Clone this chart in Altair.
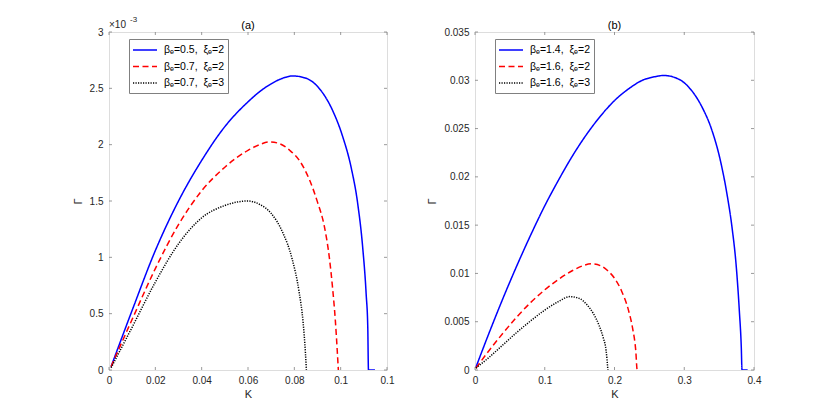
import altair as alt
import pandas as pd

# ---------------- data : panel (a)  (Gamma in units of 1e-3) ----------------
lab_a = ["βₑ=0.5,\u00a0\u00a0ξₑ=2", "βₑ=0.7,\u00a0\u00a0ξₑ=2", "βₑ=0.7,\u00a0\u00a0ξₑ=3"]

k_a1 = [0.0009, 0.01, 0.02, 0.03, 0.04, 0.05, 0.06, 0.065, 0.07, 0.075, 0.0793, 0.085,
        0.0915, 0.0966, 0.1009, 0.1045, 0.1074, 0.1095, 0.1110, 0.1117, 0.1120, 0.1148]
g_a1 = [0.03, 0.53, 1.06, 1.50, 1.86, 2.16, 2.38, 2.47, 2.54, 2.59, 2.61, 2.59,
        2.48, 2.30, 2.07, 1.80, 1.47, 1.09, 0.675, 0.38, 0.0, 0.0]

k_a2 = [0.0009, 0.01, 0.02, 0.03, 0.04, 0.05, 0.06, 0.065, 0.069, 0.0735, 0.078, 0.0825,
        0.0865, 0.0900, 0.0930, 0.0951, 0.0965, 0.0977, 0.0985, 0.0990]
g_a2 = [0.03, 0.45, 0.90, 1.29, 1.59, 1.80, 1.95, 2.00, 2.025, 2.01, 1.95, 1.85,
        1.69, 1.49, 1.27, 1.00, 0.73, 0.44, 0.18, 0.0]

k_a3 = [0.0009, 0.01, 0.02, 0.03, 0.04, 0.05, 0.06, 0.065, 0.07, 0.075, 0.079, 0.082,
        0.0838, 0.0848, 0.0852]
g_a3 = [0.02, 0.38, 0.78, 1.12, 1.35, 1.46, 1.50, 1.47, 1.39, 1.22, 0.99, 0.70,
        0.42, 0.15, 0.0]

# ---------------- data : panel (b) ----------------
lab_b = ["βₑ=1.4,\u00a0\u00a0ξₑ=2", "βₑ=1.6,\u00a0\u00a0ξₑ=2", "βₑ=1.6,\u00a0\u00a0ξₑ=3"]

k_b1 = [0.0014, 0.02, 0.04, 0.06, 0.08, 0.10, 0.12, 0.14, 0.16, 0.18, 0.20, 0.22, 0.24,
        0.26, 0.2705, 0.2925, 0.311, 0.3257, 0.3398, 0.3519, 0.3613, 0.3685, 0.3747,
        0.3790, 0.3818, 0.3828, 0.3909]
g_b1 = [0.0003, 0.0038, 0.0074, 0.0108, 0.0140, 0.0170, 0.0197, 0.0222, 0.0244, 0.0263,
        0.0279, 0.0291, 0.0300, 0.0304, 0.0305, 0.0301, 0.0289, 0.0272, 0.0248, 0.02166,
        0.0182, 0.01476, 0.0106, 0.0061, 0.0023, 0.0, 0.0]

k_b2 = [0.0014, 0.02, 0.04, 0.06, 0.08, 0.10, 0.12, 0.14, 0.155, 0.167, 0.18, 0.19, 0.20,
        0.21, 0.22, 0.226, 0.2305, 0.2325, 0.235]
g_b2 = [0.0002, 0.0020, 0.0038, 0.0055, 0.0070, 0.0083, 0.0094, 0.0103, 0.0108, 0.0110,
        0.0108, 0.0103, 0.0095, 0.0082, 0.0062, 0.0043, 0.0020, 0.0, 0.0]

k_b3 = [0.0014, 0.02, 0.04, 0.06, 0.08, 0.10, 0.12, 0.136, 0.15, 0.16, 0.17, 0.178, 0.184,
        0.188, 0.1905]
g_b3 = [0.0002, 0.0013, 0.0026, 0.0039, 0.0051, 0.0062, 0.0071, 0.0076, 0.0074, 0.0068,
        0.0058, 0.0046, 0.0033, 0.0020, 0.0]

# ---------------- axes ticks / labels ----------------
xt_a = [0, 0.02, 0.04, 0.06, 0.08, 0.1, 0.12]
yt_a = [0, 0.5, 1, 1.5, 2, 2.5, 3]
xt_b = [0, 0.1, 0.2, 0.3, 0.4]
yt_b = [0, 0.005, 0.01, 0.015, 0.02, 0.025, 0.03, 0.035]
titles = ["(a)", "(b)"]
exp_base = ["×10"]
exp_pow = ["-3"]

colors = ["#0000ff", "#ff0000", "#000000"]
dashes = [[1, 0], [6, 3.5], [1.2, 1.3]]
AX = "#808080"
TXT = "#262626"
FONT = "Liberation Sans"
W_A, W_B, H = 278, 279, 338


def frame(ks, gs, labels):
    rows = []
    for k, g, lab in zip(ks, gs, labels):
        for i, (a, b) in enumerate(zip(k, g)):
            rows.append({"K": a, "G": b, "series": lab, "i": i})
    return pd.DataFrame(rows)


def panel(df, xt, yt, xdom, ydom, labels, title, W, extra=None):
    xenc = alt.X("K:Q", scale=alt.Scale(domain=xdom, nice=False, zero=False),
                 axis=alt.Axis(values=xt, format="~g", title="K", ticks=False, domain=False,
                               grid=False, labelPadding=5, labelFontSize=10, labelColor=TXT,
                               labelFont=FONT, titleFont=FONT, titleFontSize=11,
                               titleFontWeight="normal", titleColor=TXT, titlePadding=3,
                               labelFlush=False, labelOverlap=False))
    yenc = alt.Y("G:Q", scale=alt.Scale(domain=ydom, nice=False, zero=False),
                 axis=alt.Axis(values=yt, format="~g", title="Γ", ticks=False, domain=False,
                               grid=False, labelPadding=6, labelFontSize=10, labelColor=TXT,
                               labelFont=FONT, titleFont=FONT, titleFontSize=11,
                               titleFontWeight="normal", titleColor=TXT, titlePadding=6,
                               labelFlush=False, labelOverlap=False))
    leg = alt.Legend(orient="none", legendX=20, legendY=7, title=None,
                     symbolType="M-2,0H2", symbolSize=144, symbolStrokeWidth=1.5,
                     symbolOffset=5, labelOffset=12, labelFontSize=10.5, labelFont=FONT,
                     labelColor="#000000", strokeColor=AX, fillColor="white",
                     padding=4, rowPadding=3.5, labelLimit=300)
    lines = alt.Chart(df).mark_line(strokeWidth=1.5, interpolate="monotone", clip=True).encode(
        x=xenc, y=yenc,
        color=alt.Color("series:N", scale=alt.Scale(domain=labels, range=colors), legend=leg),
        strokeDash=alt.StrokeDash("series:N", scale=alt.Scale(domain=labels, range=dashes), legend=leg),
        order="i:Q",
    )
    xdf = pd.DataFrame({"K": xt})
    ydf = pd.DataFrame({"G": yt})
    rk = dict(color=AX, strokeWidth=0.8)
    t_bot = alt.Chart(xdf).mark_rule(**rk).encode(x=xenc, y=alt.value(H), y2=alt.value(H - 3))
    t_top = alt.Chart(xdf).mark_rule(**rk).encode(x=xenc, y=alt.value(0), y2=alt.value(3))
    t_lft = alt.Chart(ydf).mark_rule(**rk).encode(y=yenc, x=alt.value(0), x2=alt.value(3))
    t_rgt = alt.Chart(ydf).mark_rule(**rk).encode(y=yenc, x=alt.value(W), x2=alt.value(W - 3))
    ttl = alt.Chart(pd.DataFrame({"t": [title]})).mark_text(
        align="center", baseline="alphabetic", fontSize=11, font=FONT, color="#000000").encode(
        x=alt.value(W / 2), y=alt.value(-3.5), text="t:N")
    layers = [t_bot, t_top, t_lft, t_rgt, lines, ttl]
    if extra is not None:
        layers += extra
    return alt.layer(*layers).properties(width=W, height=H)


df_a = frame([k_a1, k_a2, k_a3], [g_a1, g_a2, g_a3], lab_a)
df_b = frame([k_b1, k_b2, k_b3], [g_b1, g_b2, g_b3], lab_b)

e1 = alt.Chart(pd.DataFrame({"t": exp_base})).mark_text(
    align="left", baseline="alphabetic", fontSize=10, font=FONT, color=TXT).encode(
    x=alt.value(0), y=alt.value(-4), text="t:N")
e2 = alt.Chart(pd.DataFrame({"t": exp_pow})).mark_text(
    align="left", baseline="alphabetic", fontSize=8, font=FONT, color=TXT).encode(
    x=alt.value(21), y=alt.value(-10), text="t:N")

pa = panel(df_a, xt_a, yt_a, [0, 0.12], [0, 3], lab_a, titles[0], W_A, extra=[e1, e2])
pb = panel(df_b, xt_b, yt_b, [0, 0.4], [0, 0.035], lab_b, titles[1], W_B)

chart = alt.hconcat(pa, pb, spacing=31).resolve_scale(
    color="independent", strokeDash="independent", x="independent", y="independent"
).resolve_legend(color="independent", strokeDash="independent").properties(
    padding={"left": 63, "top": 7, "right": 5, "bottom": 5}
).configure_view(stroke=AX, strokeWidth=0.8).configure(background="white")

chart.save("out.html", embed_options={"renderer": "svg", "actions": False})
